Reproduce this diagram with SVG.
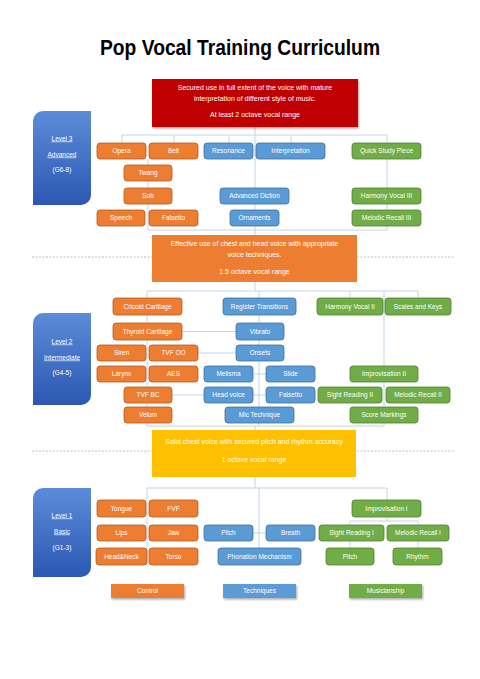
<svg xmlns="http://www.w3.org/2000/svg" width="480" height="679" viewBox="0 0 480 679">
<defs>
<linearGradient id="lvl" x1="0" y1="0" x2="0" y2="1">
<stop offset="0" stop-color="#5b8cd8"/>
<stop offset="1" stop-color="#2c58b2"/>
</linearGradient>
<filter id="sh" x="-10%" y="-10%" width="130%" height="140%">
<feDropShadow dx="1" dy="1.5" stdDeviation="1" flood-color="#000" flood-opacity="0.35"/>
</filter>
<style>
.t{font-family:"Liberation Sans",Arial,sans-serif;font-size:6.5px;fill:#fff;text-anchor:middle}
.big{font-family:"Liberation Sans",Arial,sans-serif;font-size:7px;fill:#fff;text-anchor:middle}
.lv{font-family:"Liberation Sans",Arial,sans-serif;font-size:6.5px;fill:#fff;text-anchor:middle}
.u{text-decoration:underline}
.o rect{fill:#ED7D31;stroke:#B35A1F;stroke-width:0.8}
.b rect{fill:#5B9BD5;stroke:#3C6E9E;stroke-width:0.8}
.g rect{fill:#70AD47;stroke:#4E7D30;stroke-width:0.8}
.c{fill:none;stroke:#C3D3E4;stroke-width:1}
.d{fill:none;stroke:#A6A6A6;stroke-width:0.7;stroke-dasharray:2 1.5}
</style>
</defs>
<rect width="480" height="679" fill="#fff"/>
<text x="240" y="54.5" font-family="Liberation Sans,Arial,sans-serif" font-weight="bold" font-size="22" text-anchor="middle" textLength="280" lengthAdjust="spacingAndGlyphs" fill="#000">Pop Vocal Training Curriculum</text>

<g id="separators">
<path class="d" d="M32,257 H152 M357,257 H455 M32,451 H152 M357,451 H455"/>
</g>

<g id="connectors">
<path class="c" d="M122,135 H387 M122,135 V143 M174,135 V143 M229,135 V143 M291,135 V143 M387,135 V230 M255,127 V235 M148,159 V230 M148,230 H387"/>
<path class="c" d="M255,282 V291 M147,291 H418 M147,291 V426 M259,291 V426 M350,291 V298 M418,291 V298 M384,291 V426 M147,426 H384 M255,426 V430 M182,331.5 H236 M198,353 H236 M172,395 H204 M253,374 H266 M253,395 H266"/>
<path class="c" d="M255,477 V488 M147,488 H387 M147,488 V565 M259,488 V548 M387,488 V500 M387,517 V521 M350,521 H418 M350,521 V525 M418,521 V525 M350,541 V548 M418,541 V548 M253,533 H266"/>
</g>

<g id="level3-goal">
<rect x="152" y="79" width="206" height="48" fill="#C00000" filter="url(#sh)"/>
<text class="big" x="255" y="90">Secured use in full extent of the voice with mature</text>
<text class="big" x="255" y="100.5">interpretation of different style of music.</text>
<text class="big" x="255" y="117">At least 2 octave vocal range</text>
</g>
<g id="level2-goal">
<rect x="152" y="235" width="205" height="47" fill="#ED7D31"/>
<text class="big" x="254.5" y="246">Effective use of chest and head voice with appropriate</text>
<text class="big" x="254.5" y="256.5">voice techniques.</text>
<text class="big" x="254.5" y="274">1.5 octave vocal range</text>
</g>
<g id="level1-goal">
<rect x="152" y="430" width="204" height="47" fill="#FFC000"/>
<text class="big" x="254" y="444">Solid chest voice with secured pitch and rhythm accuracy</text>
<text class="big" x="254" y="461.5">1 octave vocal range</text>
</g>

<g id="level3-label">
<path d="M43,111 H91 V195 A10,10 0 0 1 81,205 H33 V121 A10,10 0 0 1 43,111 Z" fill="url(#lvl)"/>
<text class="lv u" x="62" y="140.5">Level 3</text>
<text class="lv u" x="62" y="156.5">Advanced</text>
<text class="lv" x="62" y="172">(G6-8)</text>
</g>
<g id="level2-label">
<path d="M43,313 H91 V395 A10,10 0 0 1 81,405 H33 V323 A10,10 0 0 1 43,313 Z" fill="url(#lvl)"/>
<text class="lv u" x="62" y="343.5">Level 2</text>
<text class="lv u" x="62" y="359.5">Intermediate</text>
<text class="lv" x="62" y="374.5">(G4-5)</text>
</g>
<g id="level1-label">
<path d="M43,488 H91 V567 A10,10 0 0 1 81,577 H33 V498 A10,10 0 0 1 43,488 Z" fill="url(#lvl)"/>
<text class="lv u" x="62" y="517.5">Level 1</text>
<text class="lv u" x="62" y="533.5">Basic</text>
<text class="lv" x="62" y="549.5">(G1-3)</text>
</g>

<!-- Level 3 nodes -->
<g id="opera" class="o"><rect x="97" y="143" width="49" height="16" rx="3"/><text class="t" x="121.5" y="153.3">Opera</text></g>
<g id="belt" class="o"><rect x="149" y="143" width="49" height="16" rx="3"/><text class="t" x="173.5" y="153.3">Belt</text></g>
<g id="resonance" class="b"><rect x="204" y="143" width="49" height="16" rx="3"/><text class="t" x="228.5" y="153.3">Resonance</text></g>
<g id="interpretation" class="b"><rect x="256" y="143" width="69" height="16" rx="3"/><text class="t" x="290.5" y="153.3">Interpretation</text></g>
<g id="quick-study" class="g"><rect x="352" y="143" width="69" height="16" rx="3"/><text class="t" x="386.5" y="153.3">Quick Study Piece</text></g>
<g id="twang" class="o"><rect x="124" y="165" width="48" height="16" rx="3"/><text class="t" x="148" y="175.3">Twang</text></g>
<g id="sob" class="o"><rect x="124" y="188" width="48" height="16" rx="3"/><text class="t" x="148" y="198.3">Sob</text></g>
<g id="speech" class="o"><rect x="97" y="210" width="48" height="16" rx="3"/><text class="t" x="121" y="220.3">Speech</text></g>
<g id="falsetto3" class="o"><rect x="149" y="210" width="49" height="16" rx="3"/><text class="t" x="173.5" y="220.3">Falsetto</text></g>
<g id="adv-diction" class="b"><rect x="220" y="188" width="69" height="16" rx="3"/><text class="t" x="254.5" y="198.3">Advanced Diction</text></g>
<g id="ornaments" class="b"><rect x="230" y="210" width="49" height="16" rx="3"/><text class="t" x="254.5" y="220.3">Ornaments</text></g>
<g id="harmony3" class="g"><rect x="352" y="188" width="69" height="16" rx="3"/><text class="t" x="386.5" y="198.3">Harmony Vocal III</text></g>
<g id="recall3" class="g"><rect x="352" y="210" width="69" height="16" rx="3"/><text class="t" x="386.5" y="220.3">Melodic Recall III</text></g>

<!-- Level 2 nodes -->
<g id="cricoid" class="o"><rect x="113" y="298" width="69" height="17" rx="3"/><text class="t" x="147.5" y="308.8">Cricoid Cartilage</text></g>
<g id="register" class="b"><rect x="223" y="298" width="73" height="17" rx="3"/><text class="t" x="259.5" y="308.8">Register Transitions</text></g>
<g id="harmony2" class="g"><rect x="317" y="298" width="66" height="17" rx="3"/><text class="t" x="350" y="308.8">Harmony Vocal II</text></g>
<g id="scales" class="g"><rect x="385" y="298" width="66" height="17" rx="3"/><text class="t" x="418" y="308.8">Scales and Keys</text></g>
<g id="thyroid" class="o"><rect x="113" y="323" width="69" height="17" rx="3"/><text class="t" x="147.5" y="333.8">Thyroid Cartilage</text></g>
<g id="vibrato" class="b"><rect x="236" y="323" width="48" height="17" rx="3"/><text class="t" x="260" y="333.8">Vibrato</text></g>
<g id="siren" class="o"><rect x="97" y="345" width="49" height="16" rx="3"/><text class="t" x="121.5" y="355.3">Siren</text></g>
<g id="tvfoo" class="o"><rect x="149" y="345" width="49" height="16" rx="3"/><text class="t" x="173.5" y="355.3">TVF OO</text></g>
<g id="onsets" class="b"><rect x="236" y="345" width="48" height="16" rx="3"/><text class="t" x="260" y="355.3">Onsets</text></g>
<g id="larynx" class="o"><rect x="97" y="366" width="49" height="16" rx="3"/><text class="t" x="121.5" y="376.3">Larynx</text></g>
<g id="aes" class="o"><rect x="149" y="366" width="49" height="16" rx="3"/><text class="t" x="173.5" y="376.3">AES</text></g>
<g id="melisma" class="b"><rect x="204" y="366" width="49" height="16" rx="3"/><text class="t" x="228.5" y="376.3">Melisma</text></g>
<g id="slide" class="b"><rect x="266" y="366" width="49" height="16" rx="3"/><text class="t" x="290.5" y="376.3">Slide</text></g>
<g id="improv2" class="g"><rect x="350" y="366" width="68" height="16" rx="3"/><text class="t" x="384" y="376.3">Improvisation II</text></g>
<g id="tvfbc" class="o"><rect x="124" y="387" width="48" height="16" rx="3"/><text class="t" x="148" y="397.3">TVF BC</text></g>
<g id="headvoice" class="b"><rect x="204" y="387" width="49" height="16" rx="3"/><text class="t" x="228.5" y="397.3">Head voice</text></g>
<g id="falsetto2" class="b"><rect x="266" y="387" width="49" height="16" rx="3"/><text class="t" x="290.5" y="397.3">Falsetto</text></g>
<g id="sight2" class="g"><rect x="318" y="387" width="64" height="16" rx="3"/><text class="t" x="350" y="397.3">Sight Reading II</text></g>
<g id="recall2" class="g"><rect x="386" y="387" width="64" height="16" rx="3"/><text class="t" x="418" y="397.3">Melodic Recall II</text></g>
<g id="velum" class="o"><rect x="124" y="407" width="48" height="16" rx="3"/><text class="t" x="148" y="417.3">Velum</text></g>
<g id="mic" class="b"><rect x="225" y="407" width="69" height="16" rx="3"/><text class="t" x="259.5" y="417.3">Mic Technique</text></g>
<g id="score" class="g"><rect x="350" y="407" width="68" height="16" rx="3"/><text class="t" x="384" y="417.3">Score Markings</text></g>

<!-- Level 1 nodes -->
<g id="tongue" class="o"><rect x="97" y="500" width="49" height="17" rx="3"/><text class="t" x="121.5" y="510.8">Tongue</text></g>
<g id="fvf" class="o"><rect x="149" y="500" width="49" height="17" rx="3"/><text class="t" x="173.5" y="510.8">FVF</text></g>
<g id="improv1" class="g"><rect x="352" y="500" width="69" height="17" rx="3"/><text class="t" x="386.5" y="510.8">Improvisation I</text></g>
<g id="lips" class="o"><rect x="97" y="525" width="49" height="16" rx="3"/><text class="t" x="121.5" y="535.3">Lips</text></g>
<g id="jaw" class="o"><rect x="149" y="525" width="49" height="16" rx="3"/><text class="t" x="173.5" y="535.3">Jaw</text></g>
<g id="pitch-t" class="b"><rect x="204" y="525" width="49" height="16" rx="3"/><text class="t" x="228.5" y="535.3">Pitch</text></g>
<g id="breath" class="b"><rect x="266" y="525" width="49" height="16" rx="3"/><text class="t" x="290.5" y="535.3">Breath</text></g>
<g id="sight1" class="g"><rect x="319" y="525" width="65" height="16" rx="3"/><text class="t" x="351.5" y="535.3">Sight Reading I</text></g>
<g id="recall1" class="g"><rect x="387" y="525" width="62" height="16" rx="3"/><text class="t" x="418" y="535.3">Melodic Recall I</text></g>
<g id="headneck" class="o"><rect x="96" y="548" width="51" height="17" rx="3"/><text class="t" x="121.5" y="558.8">Head&amp;Neck</text></g>
<g id="torso" class="o"><rect x="149" y="548" width="49" height="17" rx="3"/><text class="t" x="173.5" y="558.8">Torso</text></g>
<g id="phonation" class="b"><rect x="218" y="548" width="83" height="17" rx="3"/><text class="t" x="259.5" y="558.8">Phonation Mechanism</text></g>
<g id="pitch-m" class="g"><rect x="326" y="548" width="48" height="17" rx="3"/><text class="t" x="350" y="558.8">Pitch</text></g>
<g id="rhythm" class="g"><rect x="393" y="548" width="49" height="17" rx="3"/><text class="t" x="417.5" y="558.8">Rhythm</text></g>

<!-- Legend -->
<g id="legend-control"><rect x="111" y="584" width="73" height="14" fill="#ED7D31" filter="url(#sh)"/><text class="t" x="147.5" y="593.3">Control</text></g>
<g id="legend-techniques"><rect x="223" y="584" width="73" height="14" fill="#5B9BD5" filter="url(#sh)"/><text class="t" x="259.5" y="593.3">Techniques</text></g>
<g id="legend-musicianship"><rect x="349" y="584" width="73" height="14" fill="#70AD47" filter="url(#sh)"/><text class="t" x="385.5" y="593.3">Musicianship</text></g>
</svg>
